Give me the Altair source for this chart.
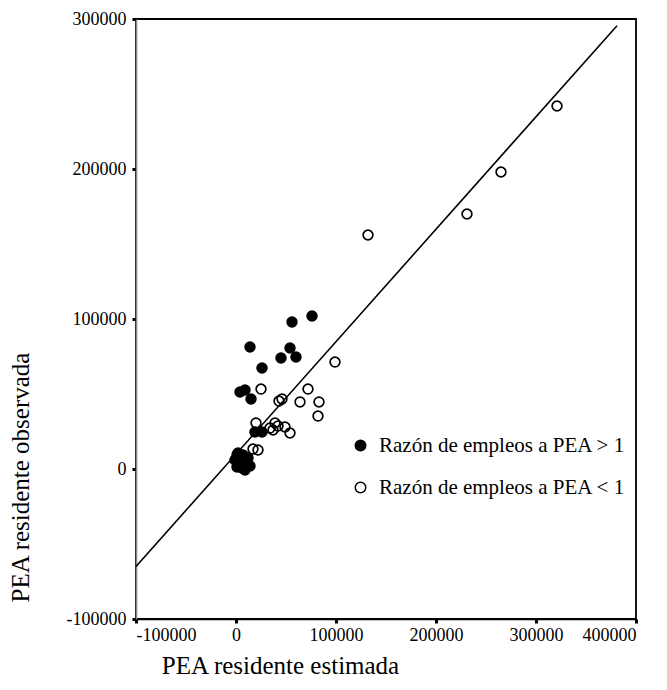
import altair as alt
import pandas as pd

# Open circles: Razón de empleos a PEA < 1
open_x = [321000, 265000, 231000, 132000, 99000, 72000, 25000, 43000, 46000, 64000,
          83000, 82000, 20000, 39000, 42000, 34000, 37000, 49000, 54000, 17000,
          22000, 1000, 9000]
open_y = [242000, 198000, 170000, 156000, 71300, 53300, 53300, 45300, 46700, 44700,
          44700, 35300, 30700, 30700, 28700, 27300, 26000, 28000, 24000, 13300,
          12700, 9300, 8000]

# Filled circles: Razón de empleos a PEA > 1
fill_x = [76000, 56000, 14000, 54000, 60000, 45000, 26000, 4000, 9000, 15000,
          19000, 26000, 2000, 7000, 12000, 4000, 1000, 6000, 11000, -1000, 9000, 14000]
fill_y = [102000, 98000, 81300, 80700, 74700, 74000, 67300, 51300, 52700, 46700,
          24700, 24700, 10700, 9300, 7300, 4700, 1300, 700, 4000, 6000, -700, 2000]

# Fitted line endpoints
line_x = [-100000, 381000]
line_y = [-65000, 295500]

cat_gt = "Razón de empleos a PEA > 1"
cat_lt = "Razón de empleos a PEA < 1"

FONT = "Liberation Serif"

pts = pd.DataFrame({
    "x": fill_x + open_x,
    "y": fill_y + open_y,
    "grupo": [cat_gt] * len(fill_x) + [cat_lt] * len(open_x),
})
line_df = pd.DataFrame({"x": line_x, "y": line_y})

xscale = alt.Scale(domain=[-100000, 400000], nice=False, zero=False)
yscale = alt.Scale(domain=[-100000, 300000], nice=False, zero=False)

xaxis = alt.Axis(
    values=[-100000, 0, 100000, 200000, 300000, 400000],
    labelExpr="'' + datum.value",
    title="PEA residente estimada",
    titleFont=FONT, titleFontSize=25, titleFontWeight="normal", titleColor="black",
    titleX=144, titleY=54, titleAnchor="middle", titleBaseline="alphabetic",
    labelFont=FONT, labelFontSize=18, labelColor="black", labelPadding=3,
    tickSize=4, tickWidth=3, tickColor="black",
    domainColor="black", domainWidth=1.5, grid=False,
)
yaxis = alt.Axis(
    values=[-100000, 0, 100000, 200000, 300000],
    labelExpr="'' + datum.value",
    title="PEA residente observada",
    titleFont=FONT, titleFontSize=25, titleFontWeight="normal", titleColor="black",
    titleX=-116, titleY=458, titleAngle=-90, titleBaseline="middle",
    titleAlign="center",
    labelFont=FONT, labelFontSize=18, labelColor="black", labelPadding=6,
    tickSize=4, tickWidth=3, tickColor="black",
    domainColor="#888888", domainWidth=1.5, grid=False,
)

line = alt.Chart(line_df).mark_line(color="black", strokeWidth=1.6).encode(
    x=alt.X("x:Q", scale=xscale, axis=xaxis),
    y=alt.Y("y:Q", scale=yscale, axis=yaxis),
)

points = alt.Chart(pts).mark_point(
    shape="circle", size=95, stroke="black", strokeWidth=1.7, opacity=1
).encode(
    x=alt.X("x:Q", scale=xscale),
    y=alt.Y("y:Q", scale=yscale),
    fill=alt.Fill(
        "grupo:N",
        scale=alt.Scale(domain=[cat_gt, cat_lt], range=["black", "transparent"]),
        legend=alt.Legend(
            title=None, orient="none", legendX=214, legendY=416,
            labelFont=FONT, labelFontSize=21, labelColor="black", labelLimit=400,
            symbolSize=110, symbolStrokeColor="black", symbolStrokeWidth=1.5,
            symbolType="circle", rowPadding=20, labelOffset=8,
        ),
    ),
)

chart = alt.layer(line, points).properties(
    width=500, height=600,
    autosize=alt.AutoSizeParams(type="none"),
    padding={"left": 136, "top": 19, "right": 31, "bottom": 71},
).configure(
    font=FONT,
).configure_view(
    stroke="black", strokeWidth=1.8,
)

chart.save("out.html", embed_options={"renderer": "svg", "actions": False})
